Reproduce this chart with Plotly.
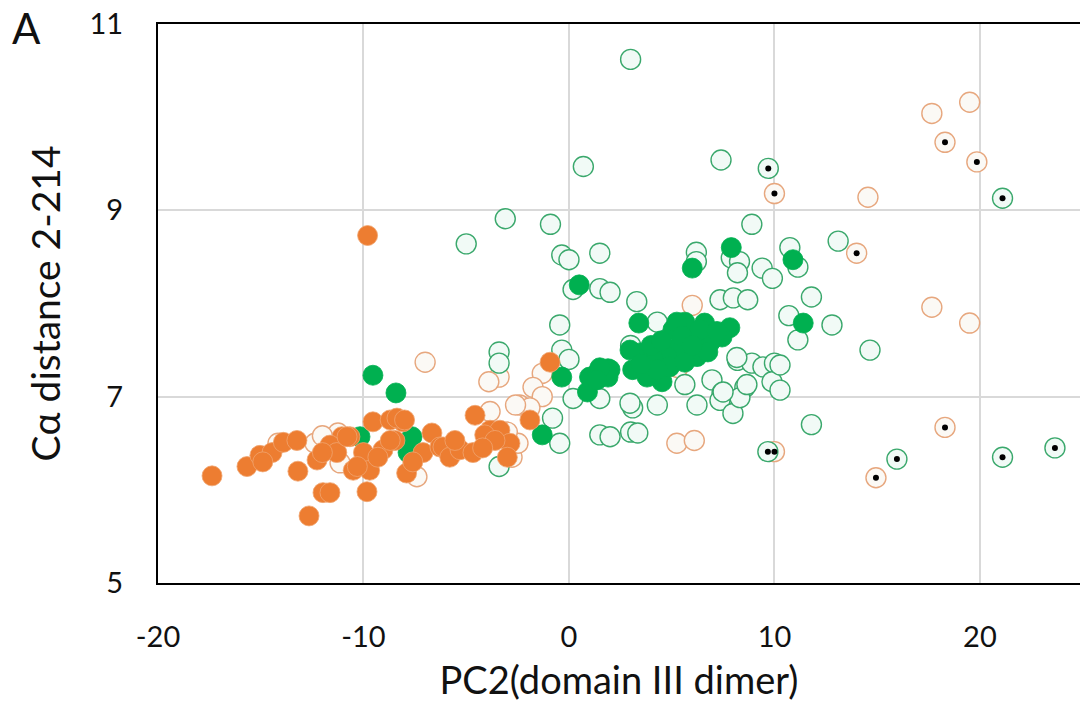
import plotly.graph_objects as go

# ---- data -------------------------------------------------------------
# orange, filled
orange_filled_x = [-17.37, -15.67, -15.04, -14.45, -13.9, -13.24, -13.19, -12.26, -11.97, -11.63,
                   -12.65, -11.05, -11.63, -10.66, -11.3, -9.83, -9.54, -8.7, -8.08, -8.47,
                   -9.05, -10.0, -10.5, -9.7, -7.9, -6.67, -7.1, -6.28, -8.37, -8.0,
                   -10.8, -10.3, -9.3, -8.7, -6.13, -5.8, -5.3, -4.67, -4.57, -3.84,
                   -3.36, -2.87, -1.9, -0.92, -9.8, -5.55, -4.1, -3.6, -12.0, -14.9,
                   -7.6, -4.2, -3.0]
orange_filled_y = [6.15, 6.25, 6.37, 6.40, 6.51, 6.53, 6.20, 6.32, 5.97, 5.97,
                   5.72, 6.57, 6.48, 6.57, 6.40, 5.98, 6.73, 6.75, 6.73, 6.53,
                   6.43, 6.40, 6.21, 6.21, 6.18, 6.61, 6.40, 6.46, 6.77, 6.75,
                   6.57, 6.25, 6.35, 6.53, 6.46, 6.35, 6.43, 6.40, 6.80, 6.64,
                   6.64, 6.50, 6.75, 7.37, 8.73, 6.53, 6.59, 6.53, 6.40, 6.30,
                   6.30, 6.45, 6.35]

# orange, open
orange_open_x = [-7.0, -3.4, -3.9, -1.3, -1.75, -1.3, -2.4, -1.9, -3.84, 5.25,
                 6.1, -2.77, -2.48, 6.0, 14.55, 17.66, 19.5, 17.66, 19.5, -14.16,
                 -12.36, -11.24, -11.14, -7.4, 5.3, -2.6, -3.0, -12.0]
orange_open_y = [7.37, 7.21, 7.16, 7.25, 7.10, 7.00, 6.91, 6.88, 6.84, 6.50,
                 6.53, 6.35, 6.50, 7.98, 9.14, 10.04, 10.16, 7.96, 7.79, 6.50,
                 6.50, 6.61, 6.29, 6.14, 7.31, 6.91, 6.62, 6.58]

# orange, open with centre mark
orange_marked_x = [10.0, 18.3, 19.85, 14.0, 10.0, 18.3, 14.94]
orange_marked_y = [9.18, 9.73, 9.52, 8.54, 6.41, 6.67, 6.13]

# green, filled
green_filled_x = [0.5, 3.4, 6.0, 7.9, -0.35, 0.9, 1.0, 1.4, 1.9, 1.9,
                  -1.3, 10.9, 11.4, -10.17, -9.54, -8.42, -7.64, -7.83, 5.64, 6.6,
                  7.83, 7.45, 6.86, 5.89, 5.3, 4.77, 4.09, 3.45, 2.97, 3.1,
                  3.8, 4.53, 4.9, 6.23, 5.64, 6.37, 5.06, 5.25, 6.76, 4.28,
                  2.0, 1.5, 1.36, 4.0, 4.5, 5.5, 3.5, 6.0, 7.2]
green_filled_y = [8.20, 7.79, 8.38, 8.60, 7.21, 7.05, 7.21, 7.26, 7.30, 7.21,
                  6.59, 8.47, 7.79, 6.57, 7.23, 7.04, 6.57, 6.40, 7.80, 7.79,
                  7.74, 7.64, 7.58, 7.60, 7.53, 7.43, 7.41, 7.47, 7.50, 7.29,
                  7.21, 7.16, 7.32, 7.43, 7.37, 7.72, 7.72, 7.80, 7.48, 7.29,
                  7.29, 7.31, 7.18, 7.55, 7.60, 7.65, 7.35, 7.55, 7.70]

# green, open
green_open_x = [3.0, 0.7, 7.4, -3.1, -0.9, 8.9, -5.0, -0.35, 0.0, 1.5,
                0.2, 1.5, 2.0, 3.3, 4.3, -0.45, 6.2, 6.2, 7.9, 8.3,
                8.2, 9.4, 9.9, 7.35, 8.0, 8.7, -3.4, -3.4, -0.35, 0.0,
                0.2, 1.5, 3.1, 4.3, -0.8, -0.45, 1.5, 2.0, 3.0, 3.35,
                -3.4, 8.2, 8.9, 9.44, 10.0, 5.64, 6.23, 6.96, 7.45, 7.35,
                7.98, 8.56, 8.32, 9.88, 10.75, 11.14, 13.1, 11.8, 10.7, 11.14,
                12.8, 14.65, 11.8, 10.27, 8.66, 10.27, 8.17, 7.5, 2.97, 3.0]
green_open_y = [10.62, 9.47, 9.54, 8.91, 8.85, 8.85, 8.64, 8.52, 8.47, 8.54,
                8.15, 8.16, 8.12, 8.02, 7.80, 7.77, 8.55, 8.45, 8.49, 8.45,
                8.33, 8.38, 8.27, 8.04, 8.06, 8.04, 7.48, 7.36, 7.50, 7.40,
                6.98, 6.98, 6.88, 6.91, 6.77, 6.50, 6.59, 6.57, 6.62, 6.61,
                6.25, 7.39, 7.36, 7.32, 7.36, 7.13, 6.91, 7.18, 7.04, 6.96,
                6.82, 7.10, 6.99, 7.16, 8.60, 8.39, 8.67, 8.07, 7.87, 7.61,
                7.77, 7.50, 6.70, 7.07, 7.13, 7.34, 7.42, 7.05, 6.93, 7.55]

# green, open with centre mark
green_marked_x = [9.7, 21.1, 9.68, 15.96, 21.1, 23.65]
green_marked_y = [9.45, 9.13, 6.41, 6.33, 6.35, 6.45]

x_ticks = [-20, -10, 0, 10, 20]
y_ticks = [5, 7, 9, 11]

# ---- styling ----------------------------------------------------------
ORANGE = "#ED7D31"
GREEN = "#00B050"
MARKER_SIZE = 20
FONT = "Lato, 'Open Sans', sans-serif"
TEXT = "#111111"

# plotting area in pixels (used to place the panel letter)
W, H = 1080, 711
M_L, M_R, M_T, M_B = 158, 0, 24, 128

fig = go.Figure()


def add_points(xs, ys, fill, line_color, line_width, size=MARKER_SIZE):
    fig.add_trace(go.Scatter(
        x=xs, y=ys, mode="markers", showlegend=False, hoverinfo="x+y",
        marker=dict(symbol="circle", size=size, color=fill,
                    line=dict(color=line_color, width=line_width)),
    ))


# open circles go underneath the filled ones
add_points(orange_open_x + orange_marked_x, orange_open_y + orange_marked_y,
           "#FBF9F5", "#E7A77E", 1.4)
add_points(green_open_x + green_marked_x, green_open_y + green_marked_y,
           "#F1FAF6", "#3AA86C", 1.4)
add_points(green_filled_x, green_filled_y, GREEN, GREEN, 0.8)
add_points(orange_filled_x, orange_filled_y, ORANGE, "#F0A470", 0.8)

# centre marks on selected open circles
add_points(orange_marked_x + green_marked_x, orange_marked_y + green_marked_y,
           "black", "black", 0, size=6)

plot_w = W - M_L - M_R
plot_h = H - M_T - M_B

fig.update_layout(
    width=W, height=H,
    margin=dict(l=M_L, r=M_R, t=M_T, b=M_B),
    paper_bgcolor="white", plot_bgcolor="white",
    font=dict(family=FONT, color=TEXT),
    xaxis=dict(
        range=[-20, 24.87], tickvals=x_ticks, ticktext=[str(v) for v in x_ticks],
        showgrid=True, gridcolor="#D9D9D9", gridwidth=2,
        showline=True, linecolor="black", linewidth=2, mirror=True,
        zeroline=False, ticks="outside", ticklen=27, tickcolor="rgba(0,0,0,0)",
        tickfont=dict(size=29, family=FONT, color=TEXT),
        title=dict(text="PC2(domain III dimer)", standoff=16,
                   font=dict(size=38, family=FONT, color=TEXT)),
    ),
    yaxis=dict(
        range=[5, 11], tickvals=y_ticks, ticktext=[str(v) for v in y_ticks],
        showgrid=True, gridcolor="#D9D9D9", gridwidth=2,
        showline=True, linecolor="black", linewidth=2, mirror=False,
        zeroline=False, ticks="outside", ticklen=27, tickcolor="rgba(0,0,0,0)",
        tickfont=dict(size=29, family=FONT, color=TEXT),
        title=dict(text="Cα distance 2-214", standoff=17,
                   font=dict(size=39, family=FONT, color=TEXT)),
    ),
    annotations=[dict(
        text="A", showarrow=False, xref="paper", yref="paper",
        x=(10 - M_L) / plot_w, y=(H - M_B - 28) / plot_h,
        xanchor="left", yanchor="middle",
        font=dict(size=42, family=FONT, color=TEXT),
    )],
)

fig.write_html("out.html")
